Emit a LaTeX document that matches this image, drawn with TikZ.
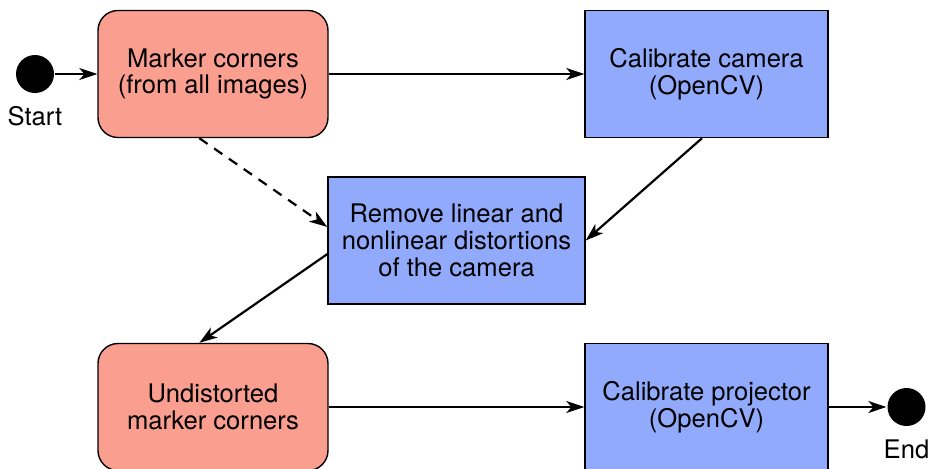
\documentclass[tikz,border=0pt]{standalone}
\usepackage{fontspec}
\setmainfont{TeX Gyre Heros}
\usetikzlibrary{arrows.meta}

\definecolor{salmonbox}{RGB}{250,158,144}
\definecolor{bluebox}{RGB}{145,170,252}

\tikzset{every picture/.style={line width=1.1pt}}
\tikzset{
  boxfont/.style={font=\fontsize{12.8}{13.4}\selectfont},
  markerbox/.style={draw,line width=0.7pt,fill=salmonbox,rounded corners=10pt,minimum width=115pt,minimum height=63.5pt,align=center,boxfont},
  cvbox/.style={draw,line width=0.7pt,fill=bluebox,minimum height=63.5pt,align=center,boxfont},
  terminal/.style={circle,fill=black,inner sep=0pt,minimum size=19pt},
  flow/.style={-{Stealth[length=9pt,width=6pt,inset=2.5pt]}}
}

\begin{document}
\begin{tikzpicture}[x=0.5pt,y=0.5pt,yscale=-1,xscale=1]
				\useasboundingbox (0,0) rectangle (928,468);
				%Shape: Circle [id:start]
				\node [terminal] (start) at (35,74) {};
				%Shape: Circle [id:end]
				\node [terminal] (end) at (906.5,407) {};
				% Text Node
				\node [boxfont] (starttxt) at (35,116.5) {Start};
				% Text Node
				\node [boxfont] (endtxt) at (906.5,449.5) {End};
				
				% Text Node
				\node [markerbox] (corners) at (213,74) {Marker corners\\(from all images)};
				% Text Node
				\node [cvbox,minimum width=121.5pt] (calibcam) at (706.5,74) {Calibrate camera\\(OpenCV)};
				% Text Node
				\node [cvbox,minimum width=128.5pt] (undistort) at (456.5,240.5) {Remove linear and\\nonlinear distortions\\of the camera};
				% Text Node
				\node [markerbox] (undcorners) at (213,407) {Undistorted\\marker corners};
				% Text Node
				\node [cvbox,minimum width=121.5pt] (calibproj) at (706.5,407) {Calibrate projector\\(OpenCV)};
				
				%Straight Lines
				\draw [flow] (start) -- (corners);
				\draw [flow] (corners) -- (calibcam);
				\draw [flow,dash pattern=on 5pt off 4pt] (corners.258) -- (undistort.174);
				\draw [flow] (calibcam.266) -- (undistort.east);
				\draw [flow] (undistort.186) -- (undcorners.102);
				\draw [flow] (undcorners) -- (calibproj);
				\draw [flow] (calibproj) -- (end);
\end{tikzpicture}
\end{document}
